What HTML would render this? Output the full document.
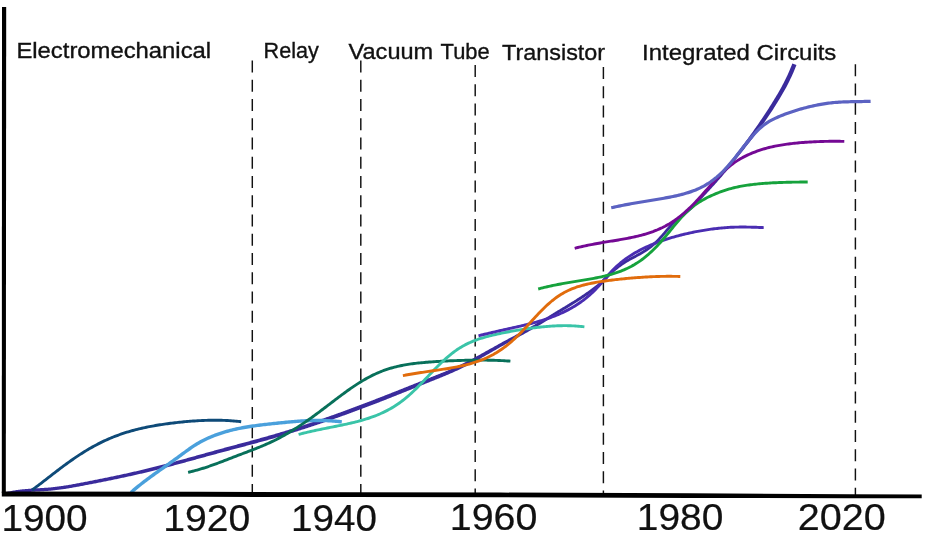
<!DOCTYPE html><html><head><meta charset="utf-8"><title>chart</title><style>html,body{margin:0;padding:0;background:#fff}svg{display:block}text{font-family:"Liberation Sans",sans-serif;fill:#111;stroke:#111;stroke-width:0.35px}</style></head><body>
<svg width="925" height="535" viewBox="0 0 925 535">
<rect width="925" height="535" fill="#fff"/>
<g style="filter:blur(0.4px)">
<line x1="252.3" y1="60.6" x2="252.3" y2="495" stroke="#111" stroke-width="1.45" stroke-dasharray="12 7.25"/>
<line x1="360.8" y1="60.6" x2="360.8" y2="495" stroke="#111" stroke-width="1.45" stroke-dasharray="12 7.25"/>
<line x1="475.2" y1="65.0" x2="475.2" y2="495" stroke="#111" stroke-width="1.45" stroke-dasharray="12 7.25"/>
<line x1="603.4" y1="67.0" x2="603.4" y2="495" stroke="#111" stroke-width="1.45" stroke-dasharray="12 7.25"/>
<line x1="855.4" y1="64.3" x2="855.4" y2="495" stroke="#111" stroke-width="1.45" stroke-dasharray="12 7.25"/>
<path d="M7.05,494.91 L8.03,494.68 L9.02,494.46 L10.01,494.25 L10.99,494.06 L11.98,493.87 L12.97,493.70 L13.95,493.53 L14.94,493.38 L15.93,493.23 L16.92,493.10 L17.91,492.97 L18.90,492.85 L19.89,492.73 L20.88,492.63 L21.87,492.53 L22.86,492.44 L23.86,492.35 L24.85,492.27 L25.84,492.20 L26.84,492.12 L27.83,492.06 L28.83,491.99 L29.82,491.94 L30.82,491.88 L31.82,491.82 L32.82,491.76 L33.81,491.71 L34.81,491.65 L35.81,491.60 L36.81,491.55 L37.81,491.50 L38.82,491.44 L39.82,491.39 L40.82,491.34 L41.82,491.28 L42.83,491.23 L43.83,491.17 L44.84,491.10 L45.85,491.04 L46.85,490.97 L47.86,490.89 L48.87,490.82 L49.88,490.73 L50.89,490.64 L51.90,490.55 L52.91,490.45 L53.92,490.34 L54.93,490.23 L55.94,490.12 L56.95,490.00 L57.95,489.87 L58.96,489.74 L59.97,489.61 L60.98,489.47 L61.99,489.33 L62.99,489.18 L64.00,489.03 L65.01,488.88 L66.01,488.72 L67.02,488.56 L68.03,488.40 L69.03,488.23 L70.04,488.07 L71.04,487.89 L72.05,487.72 L73.05,487.54 L74.06,487.37 L75.06,487.19 L76.06,487.01 L77.07,486.82 L78.07,486.64 L79.07,486.45 L80.08,486.26 L81.08,486.07 L82.08,485.89 L83.08,485.70 L84.09,485.51 L85.09,485.31 L86.09,485.12 L87.09,484.93 L88.09,484.74 L89.10,484.55 L90.10,484.35 L91.10,484.16 L92.10,483.97 L93.10,483.77 L94.11,483.58 L95.11,483.38 L96.11,483.19 L97.11,482.99 L98.11,482.79 L99.12,482.60 L100.12,482.40 L101.12,482.20 L102.12,482.00 L103.12,481.80 L104.13,481.60 L105.13,481.40 L106.13,481.20 L107.13,481.00 L108.13,480.79 L109.14,480.59 L110.14,480.38 L111.14,480.18 L112.14,479.97 L113.15,479.77 L114.15,479.56 L115.15,479.35 L116.15,479.14 L117.15,478.93 L118.16,478.72 L119.16,478.51 L120.16,478.30 L121.16,478.09 L122.17,477.87 L123.17,477.66 L124.17,477.44 L125.17,477.23 L126.18,477.01 L127.18,476.79 L128.18,476.57 L129.19,476.35 L130.19,476.13 L131.19,475.91 L132.19,475.69 L133.20,475.47 L134.20,475.24 L135.20,475.02 L136.20,474.79 L137.21,474.56 L138.21,474.33 L139.21,474.10 L140.22,473.87 L141.22,473.64 L142.22,473.41 L143.22,473.17 L144.23,472.94 L145.23,472.70 L146.23,472.47 L147.24,472.23 L148.24,471.99 L149.24,471.75 L150.25,471.50 L151.25,471.26 L152.25,471.02 L153.26,470.77 L154.26,470.52 L155.26,470.28 L156.26,470.03 L157.27,469.78 L158.27,469.52 L159.27,469.27 L160.28,469.02 L161.28,468.76 L162.28,468.51 L163.29,468.25 L164.29,467.99 L165.29,467.73 L166.29,467.47 L167.30,467.21 L168.30,466.95 L169.30,466.69 L170.30,466.42 L171.31,466.16 L172.31,465.89 L173.31,465.63 L174.31,465.36 L175.32,465.09 L176.32,464.83 L177.32,464.56 L178.32,464.29 L179.32,464.02 L180.33,463.75 L181.33,463.48 L182.33,463.21 L183.33,462.93 L184.33,462.66 L185.34,462.39 L186.34,462.12 L187.34,461.84 L188.34,461.57 L189.34,461.29 L190.35,461.02 L191.35,460.74 L192.35,460.47 L193.35,460.20 L194.35,459.92 L195.35,459.65 L196.36,459.37 L197.36,459.09 L198.36,458.82 L199.36,458.54 L200.36,458.27 L201.36,457.99 L202.36,457.72 L203.36,457.44 L204.37,457.17 L205.37,456.89 L206.37,456.62 L207.37,456.34 L208.37,456.07 L209.37,455.79 L210.37,455.52 L211.37,455.24 L212.37,454.97 L213.37,454.70 L214.38,454.42 L215.38,454.15 L216.38,453.88 L217.38,453.60 L218.38,453.33 L219.38,453.06 L220.38,452.79 L221.38,452.52 L222.38,452.25 L223.38,451.98 L224.38,451.72 L225.38,451.45 L226.38,451.18 L227.38,450.91 L228.38,450.65 L229.38,450.38 L230.39,450.11 L231.39,449.85 L232.39,449.58 L233.39,449.31 L234.39,449.05 L235.39,448.78 L236.39,448.52 L237.39,448.25 L238.39,447.99 L239.40,447.72 L240.40,447.46 L241.40,447.19 L242.40,446.92 L243.40,446.66 L244.40,446.39 L245.41,446.13 L246.41,445.86 L247.41,445.59 L248.41,445.32 L249.41,445.06 L250.41,444.79 L251.42,444.52 L252.42,444.25 L253.42,443.98 L254.42,443.71 L255.43,443.44 L256.43,443.17 L257.43,442.89 L258.43,442.62 L259.44,442.35 L260.44,442.07 L261.44,441.80 L262.44,441.52 L263.45,441.25 L264.45,440.97 L265.45,440.69 L266.46,440.41 L267.46,440.13 L268.46,439.85 L269.46,439.56 L270.47,439.28 L271.47,438.99 L272.47,438.71 L273.48,438.42 L274.48,438.13 L275.49,437.84 L276.49,437.55 L277.49,437.26 L278.50,436.96 L279.50,436.67 L280.50,436.37 L281.51,436.07 L282.51,435.77 L283.51,435.47 L284.52,435.17 L285.52,434.87 L286.52,434.57 L287.53,434.26 L288.53,433.96 L289.53,433.65 L290.54,433.34 L291.54,433.03 L292.54,432.72 L293.55,432.41 L294.55,432.10 L295.55,431.78 L296.56,431.47 L297.56,431.15 L298.56,430.83 L299.57,430.51 L300.57,430.19 L301.57,429.87 L302.58,429.55 L303.58,429.23 L304.58,428.91 L305.59,428.58 L306.59,428.25 L307.59,427.93 L308.60,427.60 L309.60,427.27 L310.60,426.94 L311.61,426.61 L312.61,426.28 L313.61,425.94 L314.61,425.61 L315.62,425.27 L316.62,424.94 L317.62,424.60 L318.63,424.26 L319.63,423.92 L320.63,423.58 L321.64,423.24 L322.64,422.90 L323.64,422.55 L324.65,422.21 L325.65,421.86 L326.65,421.52 L327.66,421.17 L328.66,420.82 L329.66,420.47 L330.66,420.12 L331.67,419.77 L332.67,419.42 L333.67,419.07 L334.68,418.72 L335.68,418.36 L336.68,418.01 L337.69,417.65 L338.69,417.29 L339.69,416.94 L340.69,416.58 L341.70,416.22 L342.70,415.86 L343.70,415.50 L344.71,415.13 L345.71,414.77 L346.71,414.41 L347.71,414.04 L348.72,413.68 L349.72,413.31 L350.72,412.94 L351.73,412.58 L352.73,412.21 L353.73,411.84 L354.73,411.47 L355.74,411.10 L356.74,410.73 L357.74,410.35 L358.74,409.98 L359.75,409.61 L360.75,409.23 L361.75,408.86 L362.76,408.48 L363.76,408.11 L364.76,407.73 L365.76,407.35 L366.77,406.97 L367.77,406.59 L368.77,406.21 L369.77,405.83 L370.78,405.45 L371.78,405.07 L372.78,404.69 L373.79,404.30 L374.79,403.92 L375.79,403.53 L376.79,403.15 L377.80,402.76 L378.80,402.38 L379.80,401.99 L380.80,401.60 L381.80,401.21 L382.81,400.82 L383.81,400.42 L384.81,400.03 L385.81,399.64 L386.81,399.24 L387.81,398.85 L388.81,398.45 L389.81,398.05 L390.81,397.66 L391.81,397.26 L392.82,396.86 L393.82,396.46 L394.82,396.06 L395.82,395.66 L396.82,395.26 L397.82,394.86 L398.82,394.46 L399.82,394.06 L400.82,393.66 L401.82,393.26 L402.82,392.85 L403.82,392.45 L404.82,392.05 L405.82,391.65 L406.83,391.24 L407.83,390.84 L408.83,390.44 L409.83,390.03 L410.83,389.63 L411.83,389.23 L412.83,388.82 L413.83,388.42 L414.83,388.02 L415.83,387.61 L416.83,387.21 L417.83,386.81 L418.83,386.41 L419.83,386.00 L420.83,385.60 L421.83,385.20 L422.82,384.80 L423.82,384.40 L424.82,383.99 L425.82,383.59 L426.82,383.19 L427.82,382.79 L428.82,382.39 L429.82,381.99 L430.82,381.60 L431.82,381.20 L432.82,380.80 L433.82,380.40 L434.82,380.00 L435.83,379.59 L436.83,379.19 L437.83,378.79 L438.83,378.38 L439.83,377.97 L440.84,377.57 L441.84,377.16 L442.84,376.74 L443.85,376.33 L444.85,375.91 L445.85,375.49 L446.86,375.07 L447.86,374.64 L448.87,374.21 L449.87,373.78 L450.88,373.34 L451.88,372.90 L452.89,372.46 L453.90,372.01 L454.90,371.56 L455.91,371.10 L456.92,370.64 L457.92,370.18 L458.93,369.71 L459.94,369.23 L460.94,368.75 L461.95,368.26 L462.96,367.77 L463.97,367.27 L464.97,366.77 L465.98,366.26 L466.99,365.75 L467.99,365.24 L469.00,364.71 L470.00,364.19 L471.01,363.66 L472.01,363.13 L473.01,362.59 L474.02,362.04 L475.02,361.50 L476.02,360.95 L477.02,360.40 L478.03,359.85 L479.03,359.29 L480.03,358.73 L481.03,358.17 L482.03,357.61 L483.03,357.05 L484.03,356.48 L485.03,355.91 L486.03,355.35 L487.03,354.78 L488.03,354.21 L489.03,353.64 L490.03,353.07 L491.03,352.49 L492.02,351.92 L493.02,351.35 L494.02,350.78 L495.02,350.21 L496.02,349.64 L497.01,349.07 L498.01,348.51 L499.01,347.94 L500.00,347.37 L501.00,346.81 L502.00,346.25 L502.99,345.69 L503.99,345.13 L504.98,344.58 L505.98,344.02 L506.98,343.47 L507.97,342.92 L508.97,342.37 L509.97,341.82 L510.96,341.28 L511.96,340.73 L512.96,340.19 L513.96,339.64 L514.96,339.10 L515.95,338.55 L516.95,338.01 L517.95,337.46 L518.95,336.92 L519.95,336.37 L520.95,335.82 L521.95,335.27 L522.95,334.72 L523.95,334.17 L524.95,333.61 L525.95,333.05 L526.95,332.49 L527.95,331.93 L528.95,331.37 L529.96,330.80 L530.96,330.22 L531.96,329.65 L532.96,329.07 L533.96,328.49 L534.97,327.90 L535.97,327.31 L536.97,326.71 L537.98,326.11 L538.98,325.50 L539.98,324.89 L540.98,324.28 L541.98,323.66 L542.98,323.04 L543.98,322.42 L544.98,321.79 L545.98,321.17 L546.99,320.54 L547.99,319.92 L548.99,319.29 L549.99,318.67 L550.99,318.05 L551.98,317.42 L552.98,316.80 L553.98,316.18 L554.98,315.57 L555.98,314.95 L556.97,314.34 L557.97,313.73 L558.97,313.12 L559.97,312.52 L560.97,311.91 L561.97,311.31 L562.97,310.70 L563.97,310.10 L564.97,309.49 L565.97,308.88 L566.97,308.28 L567.97,307.67 L568.97,307.06 L569.97,306.44 L570.98,305.83 L571.98,305.21 L572.98,304.59 L573.98,303.97 L574.99,303.34 L575.99,302.71 L576.99,302.07 L578.00,301.43 L579.00,300.79 L580.01,300.14 L581.01,299.48 L582.02,298.82 L583.02,298.15 L584.03,297.47 L585.03,296.79 L586.04,296.10 L587.04,295.41 L588.05,294.70 L589.06,293.99 L590.06,293.27 L591.07,292.54 L592.07,291.80 L593.08,291.06 L594.09,290.30 L595.10,289.53 L596.10,288.75 L597.11,287.96 L598.12,287.17 L599.12,286.35 L600.13,285.53 L601.14,284.70 L602.15,283.85 L603.17,282.98 L604.20,282.06 L605.23,281.06 L606.26,280.01 L607.28,278.93 L608.27,277.86 L609.26,276.81 L610.25,275.79 L611.24,274.80 L612.22,273.84 L613.21,272.91 L614.20,272.00 L615.18,271.12 L616.17,270.27 L617.15,269.44 L618.13,268.64 L619.12,267.87 L620.10,267.13 L621.08,266.41 L622.06,265.71 L623.04,265.04 L624.03,264.40 L625.01,263.77 L625.99,263.16 L626.98,262.57 L627.97,261.99 L628.96,261.43 L629.95,260.87 L630.94,260.33 L631.94,259.79 L632.93,259.25 L633.93,258.72 L634.93,258.19 L635.93,257.65 L636.94,257.12 L637.94,256.57 L638.95,256.02 L639.96,255.47 L640.97,254.90 L641.99,254.31 L643.00,253.72 L644.01,253.10 L645.03,252.47 L646.05,251.82 L647.07,251.15 L648.08,250.46 L649.10,249.74 L650.12,249.00 L651.14,248.22 L652.17,247.42 L653.19,246.59 L654.21,245.72 L655.23,244.82 L656.25,243.88 L657.27,242.91 L658.29,241.91 L659.30,240.88 L660.31,239.82 L661.33,238.74 L662.34,237.64 L663.35,236.51 L664.36,235.37 L665.37,234.21 L666.37,233.04 L667.38,231.86 L668.38,230.68 L669.38,229.51 L670.38,228.35 L671.37,227.21 L672.36,226.10 L673.34,225.03 L674.33,224.01 L675.30,223.03 L676.28,222.10 L677.26,221.21 L678.24,220.35 L679.23,219.52 L680.21,218.71 L681.20,217.92 L682.20,217.14 L683.19,216.36 L684.19,215.59 L685.20,214.81 L686.21,214.02 L687.22,213.22 L688.24,212.39 L689.26,211.54 L690.28,210.65 L691.30,209.73 L692.33,208.77 L693.35,207.77 L694.36,206.74 L695.38,205.69 L696.39,204.62 L697.40,203.53 L698.40,202.43 L699.41,201.32 L700.41,200.22 L701.41,199.12 L702.41,198.02 L703.41,196.93 L704.42,195.83 L705.42,194.75 L706.42,193.66 L707.43,192.57 L708.43,191.48 L709.44,190.39 L710.44,189.30 L711.45,188.20 L712.45,187.10 L713.46,185.99 L714.46,184.88 L715.47,183.77 L716.48,182.64 L717.48,181.51 L718.49,180.37 L719.50,179.23 L720.51,178.07 L721.51,176.91 L722.52,175.73 L723.53,174.55 L724.53,173.37 L725.54,172.17 L726.55,170.97 L727.55,169.76 L728.56,168.55 L729.57,167.33 L730.57,166.10 L731.58,164.87 L732.58,163.63 L733.59,162.38 L734.60,161.13 L735.60,159.87 L736.61,158.61 L737.61,157.35 L738.62,156.08 L739.63,154.80 L740.63,153.52 L741.64,152.24 L742.66,150.96 L743.68,149.68 L744.70,148.39 L745.71,147.10 L746.73,145.80 L747.75,144.50 L748.77,143.20 L749.79,141.88 L750.81,140.57 L751.83,139.24 L752.85,137.91 L753.87,136.57 L754.89,135.22 L755.91,133.86 L756.93,132.50 L757.95,131.12 L758.97,129.74 L759.99,128.35 L761.01,126.95 L762.03,125.53 L763.05,124.11 L764.08,122.67 L765.10,121.23 L766.12,119.77 L767.14,118.29 L768.14,116.80 L769.15,115.29 L770.16,113.77 L771.17,112.24 L772.18,110.70 L773.19,109.13 L774.19,107.56 L775.20,105.97 L776.21,104.36 L777.22,102.74 L778.23,101.10 L779.24,99.45 L780.25,97.77 L781.26,96.08 L782.27,94.36 L783.28,92.61 L784.29,90.82 L785.31,89.00 L786.32,87.13 L787.34,85.21 L788.35,83.24 L789.37,81.21 L790.38,79.12 L791.40,76.96 L792.41,74.73 L793.43,72.42 L794.44,70.04 L795.45,67.57 L796.47,65.00 L792.38,63.42 L791.39,65.93 L790.40,68.35 L789.41,70.69 L788.43,72.95 L787.44,75.14 L786.45,77.25 L785.47,79.30 L784.48,81.28 L783.49,83.21 L782.50,85.09 L781.52,86.93 L780.53,88.72 L779.54,90.48 L778.55,92.20 L777.56,93.90 L776.57,95.57 L775.57,97.23 L774.58,98.87 L773.59,100.50 L772.59,102.11 L771.60,103.70 L770.61,105.28 L769.62,106.85 L768.62,108.40 L767.63,109.93 L766.63,111.45 L765.64,112.96 L764.65,114.46 L763.65,115.94 L762.67,117.42 L761.69,118.88 L760.71,120.34 L759.73,121.79 L758.75,123.22 L757.77,124.65 L756.79,126.06 L755.81,127.47 L754.82,128.87 L753.84,130.25 L752.86,131.63 L751.88,133.00 L750.90,134.37 L749.92,135.72 L748.93,137.07 L747.95,138.42 L746.97,139.75 L745.99,141.08 L745.00,142.41 L744.02,143.73 L743.04,145.04 L742.05,146.36 L741.07,147.66 L740.09,148.97 L739.10,150.26 L738.11,151.55 L737.12,152.83 L736.12,154.11 L735.12,155.38 L734.13,156.65 L733.13,157.91 L732.14,159.16 L731.14,160.41 L730.14,161.66 L729.15,162.90 L728.15,164.13 L727.16,165.36 L726.16,166.58 L725.17,167.79 L724.17,169.00 L723.18,170.19 L722.18,171.39 L721.19,172.57 L720.19,173.75 L719.20,174.92 L718.20,176.08 L717.21,177.23 L716.21,178.38 L715.22,179.51 L714.22,180.64 L713.23,181.76 L712.23,182.88 L711.24,183.99 L710.24,185.09 L709.24,186.19 L708.25,187.29 L707.25,188.39 L706.25,189.48 L705.26,190.58 L704.26,191.67 L703.26,192.76 L702.26,193.86 L701.26,194.96 L700.26,196.06 L699.26,197.16 L698.26,198.27 L697.26,199.38 L696.26,200.48 L695.27,201.57 L694.27,202.65 L693.28,203.70 L692.30,204.73 L691.31,205.73 L690.33,206.69 L689.35,207.62 L688.37,208.50 L687.39,209.35 L686.41,210.18 L685.42,210.99 L684.43,211.77 L683.44,212.55 L682.45,213.33 L681.44,214.11 L680.44,214.89 L679.43,215.68 L678.42,216.49 L677.41,217.33 L676.39,218.19 L675.37,219.09 L674.34,220.02 L673.32,221.00 L672.30,222.03 L671.28,223.10 L670.26,224.21 L669.25,225.34 L668.24,226.50 L667.23,227.68 L666.23,228.86 L665.23,230.04 L664.23,231.21 L663.24,232.38 L662.25,233.52 L661.25,234.65 L660.26,235.75 L659.27,236.84 L658.28,237.90 L657.29,238.93 L656.31,239.93 L655.32,240.90 L654.34,241.84 L653.36,242.74 L652.38,243.60 L651.40,244.44 L650.42,245.24 L649.43,246.01 L648.45,246.75 L647.47,247.47 L646.49,248.16 L645.51,248.83 L644.52,249.48 L643.54,250.10 L642.55,250.72 L641.57,251.31 L640.58,251.89 L639.59,252.46 L638.60,253.02 L637.60,253.57 L636.61,254.11 L635.62,254.65 L634.62,255.18 L633.62,255.71 L632.62,256.25 L631.61,256.78 L630.61,257.32 L629.60,257.87 L628.59,258.42 L627.58,258.99 L626.57,259.57 L625.55,260.16 L624.54,260.77 L623.52,261.40 L622.50,262.05 L621.49,262.72 L620.46,263.41 L619.44,264.13 L618.42,264.88 L617.40,265.66 L616.39,266.46 L615.37,267.28 L614.35,268.14 L613.33,269.02 L612.32,269.92 L611.30,270.86 L610.28,271.82 L609.27,272.81 L608.25,273.83 L607.24,274.87 L606.23,275.95 L605.22,277.03 L604.23,278.08 L603.26,279.08 L602.30,280.00 L601.32,280.87 L600.34,281.71 L599.35,282.55 L598.35,283.36 L597.36,284.17 L596.37,284.97 L595.37,285.75 L594.38,286.53 L593.38,287.29 L592.39,288.04 L591.39,288.79 L590.40,289.52 L589.40,290.25 L588.41,290.97 L587.41,291.67 L586.41,292.37 L585.42,293.07 L584.42,293.75 L583.43,294.43 L582.43,295.10 L581.43,295.76 L580.44,296.42 L579.44,297.08 L578.44,297.72 L577.45,298.36 L576.45,299.00 L575.45,299.63 L574.45,300.26 L573.45,300.89 L572.45,301.51 L571.46,302.12 L570.46,302.74 L569.46,303.35 L568.46,303.96 L567.46,304.57 L566.46,305.17 L565.46,305.78 L564.45,306.38 L563.45,306.98 L562.45,307.58 L561.45,308.19 L560.45,308.79 L559.45,309.39 L558.44,309.99 L557.44,310.60 L556.44,311.21 L555.43,311.82 L554.43,312.43 L553.43,313.04 L552.42,313.66 L551.42,314.27 L550.41,314.89 L549.41,315.51 L548.41,316.14 L547.41,316.76 L546.40,317.38 L545.40,318.00 L544.40,318.62 L543.40,319.24 L542.40,319.85 L541.40,320.46 L540.40,321.07 L539.40,321.67 L538.40,322.27 L537.40,322.87 L536.40,323.46 L535.40,324.05 L534.40,324.63 L533.40,325.21 L532.40,325.78 L531.40,326.35 L530.40,326.91 L529.40,327.48 L528.40,328.04 L527.40,328.59 L526.40,329.14 L525.40,329.69 L524.40,330.24 L523.40,330.79 L522.40,331.33 L521.40,331.87 L520.39,332.41 L519.39,332.95 L518.39,333.49 L517.39,334.03 L516.38,334.56 L515.38,335.10 L514.38,335.63 L513.37,336.17 L512.37,336.70 L511.37,337.24 L510.36,337.78 L509.36,338.31 L508.35,338.85 L507.35,339.39 L506.34,339.93 L505.34,340.47 L504.33,341.02 L503.33,341.57 L502.32,342.11 L501.32,342.67 L500.31,343.22 L499.30,343.77 L498.30,344.33 L497.29,344.89 L496.29,345.45 L495.28,346.01 L494.28,346.57 L493.28,347.13 L492.27,347.69 L491.27,348.25 L490.26,348.81 L489.26,349.37 L488.26,349.94 L487.25,350.50 L486.25,351.06 L485.25,351.62 L484.25,352.17 L483.24,352.73 L482.24,353.29 L481.24,353.84 L480.24,354.39 L479.24,354.94 L478.24,355.49 L477.24,356.04 L476.24,356.58 L475.24,357.12 L474.24,357.66 L473.24,358.19 L472.24,358.73 L471.24,359.25 L470.24,359.78 L469.24,360.30 L468.24,360.82 L467.25,361.33 L466.25,361.84 L465.26,362.35 L464.26,362.85 L463.26,363.35 L462.27,363.84 L461.28,364.32 L460.28,364.81 L459.29,365.28 L458.29,365.75 L457.30,366.22 L456.30,366.68 L455.31,367.13 L454.31,367.58 L453.32,368.03 L452.32,368.47 L451.33,368.91 L450.33,369.34 L449.33,369.77 L448.34,370.20 L447.34,370.63 L446.34,371.05 L445.35,371.47 L444.35,371.88 L443.35,372.29 L442.35,372.70 L441.35,373.11 L440.36,373.52 L439.36,373.92 L438.36,374.32 L437.36,374.72 L436.36,375.12 L435.36,375.52 L434.36,375.92 L433.36,376.32 L432.36,376.71 L431.36,377.11 L430.36,377.50 L429.35,377.90 L428.35,378.29 L427.35,378.69 L426.35,379.08 L425.35,379.48 L424.34,379.88 L423.34,380.27 L422.34,380.67 L421.34,381.07 L420.33,381.47 L419.33,381.87 L418.33,382.26 L417.33,382.66 L416.33,383.06 L415.32,383.46 L414.32,383.86 L413.32,384.26 L412.32,384.66 L411.32,385.06 L410.31,385.46 L409.31,385.86 L408.31,386.26 L407.31,386.65 L406.31,387.05 L405.31,387.45 L404.31,387.85 L403.30,388.25 L402.30,388.65 L401.30,389.05 L400.30,389.44 L399.30,389.84 L398.30,390.24 L397.30,390.63 L396.30,391.03 L395.29,391.43 L394.29,391.82 L393.29,392.22 L392.29,392.61 L391.29,393.00 L390.29,393.40 L389.29,393.79 L388.29,394.18 L387.29,394.57 L386.29,394.97 L385.29,395.36 L384.28,395.75 L383.28,396.14 L382.28,396.52 L381.28,396.91 L380.28,397.30 L379.28,397.69 L378.28,398.08 L377.28,398.47 L376.28,398.86 L375.28,399.24 L374.28,399.63 L373.29,400.02 L372.29,400.40 L371.29,400.79 L370.29,401.17 L369.29,401.56 L368.29,401.94 L367.29,402.33 L366.29,402.71 L365.29,403.09 L364.29,403.47 L363.29,403.85 L362.29,404.23 L361.30,404.61 L360.30,404.99 L359.30,405.36 L358.30,405.74 L357.30,406.12 L356.30,406.49 L355.30,406.87 L354.30,407.24 L353.30,407.61 L352.30,407.98 L351.30,408.36 L350.31,408.73 L349.31,409.10 L348.31,409.47 L347.31,409.83 L346.31,410.20 L345.31,410.57 L344.31,410.93 L343.31,411.30 L342.31,411.66 L341.31,412.03 L340.32,412.39 L339.32,412.75 L338.32,413.11 L337.32,413.47 L336.32,413.83 L335.32,414.19 L334.32,414.55 L333.32,414.90 L332.32,415.26 L331.33,415.61 L330.33,415.97 L329.33,416.32 L328.33,416.67 L327.33,417.02 L326.33,417.37 L325.33,417.72 L324.33,418.07 L323.34,418.42 L322.34,418.76 L321.34,419.11 L320.34,419.45 L319.34,419.80 L318.34,420.14 L317.34,420.48 L316.34,420.82 L315.35,421.16 L314.35,421.50 L313.35,421.83 L312.35,422.17 L311.35,422.51 L310.35,422.84 L309.35,423.17 L308.36,423.51 L307.36,423.84 L306.36,424.17 L305.36,424.50 L304.36,424.83 L303.36,425.15 L302.36,425.48 L301.37,425.80 L300.37,426.13 L299.37,426.45 L298.37,426.77 L297.37,427.09 L296.37,427.41 L295.37,427.73 L294.38,428.05 L293.38,428.36 L292.38,428.68 L291.38,428.99 L290.38,429.30 L289.38,429.61 L288.38,429.92 L287.39,430.23 L286.39,430.54 L285.39,430.85 L284.39,431.15 L283.39,431.46 L282.39,431.76 L281.40,432.06 L280.40,432.36 L279.40,432.66 L278.40,432.96 L277.40,433.26 L276.40,433.55 L275.40,433.85 L274.41,434.14 L273.41,434.43 L272.41,434.72 L271.41,435.01 L270.41,435.30 L269.41,435.59 L268.42,435.87 L267.42,436.16 L266.42,436.44 L265.42,436.72 L264.42,437.01 L263.42,437.29 L262.42,437.57 L261.42,437.85 L260.42,438.12 L259.43,438.40 L258.43,438.68 L257.43,438.95 L256.43,439.23 L255.43,439.50 L254.43,439.78 L253.43,440.05 L252.43,440.32 L251.43,440.60 L250.43,440.87 L249.43,441.14 L248.43,441.41 L247.43,441.68 L246.43,441.95 L245.43,442.22 L244.43,442.49 L243.43,442.76 L242.43,443.03 L241.43,443.30 L240.43,443.56 L239.43,443.83 L238.43,444.10 L237.43,444.37 L236.43,444.64 L235.43,444.91 L234.43,445.17 L233.43,445.44 L232.43,445.71 L231.43,445.98 L230.42,446.25 L229.42,446.52 L228.42,446.79 L227.42,447.06 L226.42,447.33 L225.42,447.60 L224.42,447.87 L223.42,448.14 L222.42,448.41 L221.41,448.69 L220.41,448.96 L219.41,449.23 L218.41,449.51 L217.41,449.78 L216.41,450.05 L215.41,450.33 L214.41,450.61 L213.40,450.88 L212.40,451.16 L211.40,451.43 L210.40,451.71 L209.40,451.99 L208.40,452.27 L207.40,452.54 L206.40,452.82 L205.40,453.10 L204.40,453.38 L203.40,453.66 L202.39,453.93 L201.39,454.21 L200.39,454.49 L199.39,454.77 L198.39,455.05 L197.39,455.33 L196.39,455.60 L195.39,455.88 L194.39,456.16 L193.39,456.44 L192.39,456.72 L191.39,456.99 L190.39,457.27 L189.39,457.55 L188.39,457.82 L187.39,458.10 L186.39,458.38 L185.39,458.65 L184.39,458.93 L183.39,459.20 L182.39,459.48 L181.39,459.75 L180.39,460.02 L179.39,460.29 L178.39,460.57 L177.39,460.84 L176.39,461.11 L175.39,461.38 L174.39,461.65 L173.39,461.92 L172.39,462.19 L171.39,462.45 L170.39,462.72 L169.40,462.99 L168.40,463.25 L167.40,463.51 L166.40,463.78 L165.40,464.04 L164.40,464.30 L163.40,464.56 L162.40,464.82 L161.40,465.08 L160.40,465.34 L159.40,465.59 L158.41,465.85 L157.41,466.10 L156.41,466.36 L155.41,466.61 L154.41,466.86 L153.41,467.11 L152.41,467.36 L151.41,467.60 L150.42,467.85 L149.42,468.09 L148.42,468.34 L147.42,468.58 L146.42,468.82 L145.42,469.06 L144.42,469.30 L143.42,469.54 L142.42,469.77 L141.43,470.01 L140.43,470.24 L139.43,470.47 L138.43,470.71 L137.43,470.94 L136.43,471.17 L135.43,471.40 L134.43,471.62 L133.43,471.85 L132.44,472.08 L131.44,472.30 L130.44,472.53 L129.44,472.75 L128.44,472.97 L127.44,473.19 L126.44,473.41 L125.44,473.63 L124.44,473.85 L123.44,474.07 L122.44,474.29 L121.44,474.50 L120.44,474.72 L119.45,474.93 L118.45,475.15 L117.45,475.36 L116.45,475.57 L115.45,475.78 L114.45,475.99 L113.45,476.20 L112.45,476.41 L111.45,476.62 L110.45,476.83 L109.45,477.03 L108.45,477.24 L107.45,477.44 L106.45,477.65 L105.45,477.85 L104.45,478.06 L103.45,478.26 L102.45,478.46 L101.45,478.66 L100.45,478.87 L99.45,479.07 L98.45,479.27 L97.45,479.47 L96.45,479.66 L95.45,479.86 L94.45,480.06 L93.45,480.26 L92.45,480.46 L91.45,480.65 L90.45,480.85 L89.45,481.05 L88.45,481.24 L87.45,481.44 L86.45,481.63 L85.45,481.82 L84.45,482.02 L83.45,482.21 L82.45,482.40 L81.46,482.60 L80.46,482.79 L79.46,482.98 L78.46,483.17 L77.46,483.36 L76.46,483.54 L75.46,483.73 L74.47,483.91 L73.47,484.09 L72.47,484.27 L71.47,484.45 L70.48,484.63 L69.48,484.80 L68.48,484.97 L67.49,485.14 L66.49,485.30 L65.50,485.46 L64.50,485.62 L63.50,485.77 L62.51,485.92 L61.52,486.07 L60.52,486.21 L59.53,486.35 L58.53,486.49 L57.54,486.62 L56.55,486.74 L55.55,486.87 L54.56,486.98 L53.57,487.09 L52.57,487.20 L51.58,487.30 L50.59,487.40 L49.60,487.49 L48.61,487.57 L47.61,487.65 L46.62,487.73 L45.62,487.80 L44.63,487.87 L43.63,487.93 L42.64,487.99 L41.64,488.05 L40.64,488.11 L39.64,488.17 L38.64,488.22 L37.64,488.28 L36.64,488.33 L35.64,488.39 L34.64,488.44 L33.64,488.50 L32.63,488.56 L31.63,488.62 L30.62,488.68 L29.62,488.75 L28.61,488.82 L27.61,488.90 L26.60,488.98 L25.59,489.06 L24.58,489.15 L23.57,489.25 L22.57,489.35 L21.56,489.46 L20.55,489.57 L19.53,489.69 L18.52,489.82 L17.51,489.96 L16.50,490.10 L15.49,490.26 L14.47,490.42 L13.46,490.59 L12.44,490.77 L11.43,490.97 L10.42,491.17 L9.40,491.39 L8.38,491.62 L7.37,491.86 L6.35,492.11Z" fill="#3a2b9c" stroke="none"/>
<path d="M32.00,490.04 L33.51,488.94 L35.01,487.83 L36.52,486.70 L38.02,485.57 L39.53,484.43 L41.03,483.28 L42.54,482.12 L44.04,480.96 L45.55,479.79 L47.05,478.63 L48.56,477.46 L50.06,476.29 L51.57,475.12 L53.07,473.96 L54.58,472.79 L56.08,471.64 L57.59,470.48 L59.09,469.34 L60.60,468.20 L62.10,467.07 L63.61,465.95 L65.11,464.84 L66.62,463.73 L68.12,462.64 L69.63,461.56 L71.13,460.50 L72.64,459.44 L74.14,458.40 L75.65,457.38 L77.15,456.37 L78.66,455.37 L80.16,454.39 L81.67,453.42 L83.17,452.47 L84.68,451.54 L86.18,450.62 L87.69,449.72 L89.19,448.83 L90.70,447.97 L92.20,447.12 L93.71,446.28 L95.21,445.47 L96.72,444.67 L98.22,443.89 L99.73,443.12 L101.23,442.38 L102.74,441.65 L104.24,440.93 L105.75,440.24 L107.25,439.56 L108.76,438.90 L110.26,438.26 L111.77,437.63 L113.27,437.02 L114.78,436.43 L116.28,435.85 L117.79,435.29 L119.29,434.74 L120.80,434.21 L122.30,433.70 L123.81,433.20 L125.31,432.71 L126.82,432.24 L128.32,431.78 L129.83,431.34 L131.33,430.90 L132.84,430.49 L134.34,430.08 L135.85,429.69 L137.35,429.30 L138.86,428.93 L140.36,428.58 L141.87,428.23 L143.37,427.89 L144.88,427.56 L146.38,427.25 L147.89,426.94 L149.39,426.64 L150.90,426.36 L152.40,426.08 L153.91,425.81 L155.41,425.54 L156.92,425.29 L158.42,425.04 L159.93,424.80 L161.43,424.57 L162.94,424.35 L164.44,424.13 L165.95,423.91 L167.45,423.71 L168.96,423.51 L170.46,423.31 L171.97,423.12 L173.47,422.94 L174.98,422.75 L176.48,422.58 L177.99,422.41 L179.49,422.25 L181.00,422.09 L182.50,421.94 L184.01,421.79 L185.51,421.65 L187.02,421.51 L188.52,421.38 L190.03,421.26 L191.53,421.14 L193.04,421.03 L194.54,420.93 L196.05,420.83 L197.55,420.74 L199.06,420.66 L200.56,420.58 L202.07,420.51 L203.57,420.45 L205.08,420.40 L206.58,420.35 L208.09,420.31 L209.59,420.28 L211.10,420.25 L212.60,420.24 L214.11,420.23 L215.61,420.23 L217.12,420.24 L218.62,420.26 L220.13,420.29 L221.63,420.32 L223.14,420.37 L224.64,420.42 L226.15,420.49 L227.65,420.56 L229.16,420.64 L230.66,420.74 L232.17,420.84 L233.67,420.96 L235.18,421.08 L236.68,421.22 L238.19,421.36 L239.69,421.52 L241.20,421.69" fill="none" stroke="#0e4a78" stroke-width="2.9" stroke-linecap="butt" stroke-linejoin="round"/>
<path d="M130.90,492.49 L132.41,491.18 L133.91,489.89 L135.42,488.63 L136.93,487.39 L138.43,486.17 L139.94,484.96 L141.44,483.78 L142.95,482.61 L144.46,481.45 L145.96,480.31 L147.47,479.17 L148.98,478.05 L150.48,476.94 L151.99,475.84 L153.50,474.75 L155.00,473.66 L156.51,472.58 L158.02,471.51 L159.52,470.44 L161.03,469.37 L162.53,468.30 L164.04,467.24 L165.55,466.17 L167.05,465.10 L168.56,464.04 L170.07,462.97 L171.57,461.89 L173.08,460.82 L174.59,459.74 L176.09,458.65 L177.60,457.55 L179.11,456.45 L180.61,455.34 L182.12,454.22 L183.62,453.11 L185.13,452.00 L186.64,450.90 L188.14,449.81 L189.65,448.74 L191.16,447.70 L192.66,446.67 L194.17,445.68 L195.68,444.72 L197.18,443.80 L198.69,442.92 L200.20,442.07 L201.70,441.25 L203.21,440.47 L204.72,439.72 L206.22,439.00 L207.73,438.30 L209.23,437.64 L210.74,436.99 L212.25,436.37 L213.75,435.77 L215.26,435.19 L216.77,434.63 L218.27,434.09 L219.78,433.57 L221.29,433.07 L222.79,432.59 L224.30,432.13 L225.81,431.68 L227.31,431.25 L228.82,430.84 L230.32,430.44 L231.83,430.06 L233.34,429.69 L234.84,429.34 L236.35,429.00 L237.86,428.68 L239.36,428.37 L240.87,428.07 L242.38,427.78 L243.88,427.50 L245.39,427.24 L246.90,426.98 L248.40,426.74 L249.91,426.50 L251.41,426.27 L252.92,426.05 L254.43,425.84 L255.93,425.63 L257.44,425.43 L258.95,425.24 L260.45,425.05 L261.96,424.86 L263.47,424.68 L264.97,424.51 L266.48,424.34 L267.99,424.17 L269.49,424.00 L271.00,423.84 L272.50,423.68 L274.01,423.51 L275.52,423.36 L277.02,423.20 L278.53,423.04 L280.04,422.89 L281.54,422.74 L283.05,422.59 L284.56,422.44 L286.06,422.30 L287.57,422.15 L289.08,422.02 L290.58,421.88 L292.09,421.75 L293.59,421.63 L295.10,421.51 L296.61,421.39 L298.11,421.28 L299.62,421.17 L301.13,421.07 L302.63,420.98 L304.14,420.89 L305.65,420.81 L307.15,420.74 L308.66,420.68 L310.17,420.62 L311.67,420.57 L313.18,420.53 L314.68,420.50 L316.19,420.48 L317.70,420.46 L319.20,420.46 L320.71,420.47 L322.22,420.49 L323.72,420.52 L325.23,420.56 L326.74,420.62 L328.24,420.68 L329.75,420.76 L331.25,420.86 L332.76,420.96 L334.27,421.09 L335.77,421.22 L337.28,421.37 L338.79,421.54 L340.29,421.72 L341.80,421.92" fill="none" stroke="#4aa0dc" stroke-width="3.4" stroke-linecap="butt" stroke-linejoin="round"/>
<path d="M188.10,472.30 L189.61,471.97 L191.11,471.62 L192.62,471.25 L194.12,470.87 L195.63,470.47 L197.14,470.05 L198.64,469.62 L200.15,469.18 L201.65,468.72 L203.16,468.25 L204.67,467.77 L206.17,467.27 L207.68,466.77 L209.19,466.25 L210.69,465.73 L212.20,465.20 L213.70,464.66 L215.21,464.11 L216.72,463.56 L218.22,463.00 L219.73,462.43 L221.23,461.86 L222.74,461.29 L224.25,460.71 L225.75,460.13 L227.26,459.55 L228.76,458.96 L230.27,458.38 L231.78,457.80 L233.28,457.21 L234.79,456.63 L236.29,456.05 L237.80,455.48 L239.31,454.90 L240.81,454.33 L242.32,453.76 L243.82,453.19 L245.33,452.62 L246.84,452.05 L248.34,451.48 L249.85,450.91 L251.36,450.33 L252.86,449.75 L254.37,449.16 L255.87,448.57 L257.38,447.97 L258.89,447.36 L260.39,446.74 L261.90,446.12 L263.40,445.48 L264.91,444.84 L266.42,444.18 L267.92,443.51 L269.43,442.83 L270.93,442.13 L272.44,441.41 L273.95,440.69 L275.45,439.94 L276.96,439.18 L278.46,438.40 L279.97,437.60 L281.48,436.79 L282.98,435.97 L284.49,435.13 L285.99,434.27 L287.50,433.40 L289.01,432.51 L290.51,431.61 L292.02,430.69 L293.53,429.76 L295.03,428.81 L296.54,427.85 L298.04,426.88 L299.55,425.89 L301.06,424.89 L302.56,423.88 L304.07,422.86 L305.57,421.82 L307.08,420.77 L308.59,419.71 L310.09,418.64 L311.60,417.57 L313.10,416.48 L314.61,415.38 L316.12,414.27 L317.62,413.16 L319.13,412.04 L320.63,410.91 L322.14,409.78 L323.65,408.64 L325.15,407.50 L326.66,406.35 L328.16,405.20 L329.67,404.05 L331.18,402.90 L332.68,401.75 L334.19,400.61 L335.70,399.46 L337.20,398.32 L338.71,397.19 L340.21,396.06 L341.72,394.93 L343.23,393.82 L344.73,392.72 L346.24,391.63 L347.74,390.55 L349.25,389.48 L350.76,388.43 L352.26,387.39 L353.77,386.36 L355.27,385.36 L356.78,384.37 L358.29,383.40 L359.79,382.45 L361.30,381.53 L362.80,380.62 L364.31,379.73 L365.82,378.87 L367.32,378.03 L368.83,377.22 L370.34,376.43 L371.84,375.66 L373.35,374.93 L374.85,374.21 L376.36,373.52 L377.87,372.86 L379.37,372.22 L380.88,371.61 L382.38,371.02 L383.89,370.46 L385.40,369.92 L386.90,369.41 L388.41,368.92 L389.91,368.45 L391.42,368.00 L392.93,367.58 L394.43,367.18 L395.94,366.80 L397.44,366.44 L398.95,366.09 L400.46,365.77 L401.96,365.46 L403.47,365.17 L404.97,364.90 L406.48,364.64 L407.99,364.39 L409.49,364.16 L411.00,363.94 L412.51,363.74 L414.01,363.54 L415.52,363.36 L417.02,363.18 L418.53,363.02 L420.04,362.86 L421.54,362.71 L423.05,362.57 L424.55,362.44 L426.06,362.31 L427.57,362.19 L429.07,362.07 L430.58,361.95 L432.08,361.84 L433.59,361.74 L435.10,361.64 L436.60,361.54 L438.11,361.45 L439.61,361.36 L441.12,361.27 L442.63,361.19 L444.13,361.11 L445.64,361.03 L447.14,360.96 L448.65,360.89 L450.16,360.82 L451.66,360.75 L453.17,360.69 L454.68,360.63 L456.18,360.58 L457.69,360.53 L459.19,360.48 L460.70,360.43 L462.21,360.38 L463.71,360.34 L465.22,360.31 L466.72,360.27 L468.23,360.24 L469.74,360.21 L471.24,360.19 L472.75,360.17 L474.25,360.15 L475.76,360.14 L477.27,360.13 L478.77,360.12 L480.28,360.12 L481.78,360.12 L483.29,360.13 L484.80,360.14 L486.30,360.16 L487.81,360.18 L489.31,360.20 L490.82,360.23 L492.33,360.27 L493.83,360.31 L495.34,360.35 L496.85,360.40 L498.35,360.46 L499.86,360.52 L501.36,360.59 L502.87,360.67 L504.38,360.75 L505.88,360.83 L507.39,360.93 L508.89,361.03 L510.40,361.14" fill="none" stroke="#08705a" stroke-width="2.9" stroke-linecap="butt" stroke-linejoin="round"/>
<path d="M298.60,434.43 L300.10,434.04 L301.61,433.66 L303.11,433.28 L304.62,432.91 L306.12,432.55 L307.63,432.20 L309.13,431.85 L310.63,431.51 L312.14,431.17 L313.64,430.84 L315.15,430.52 L316.65,430.20 L318.15,429.88 L319.66,429.57 L321.16,429.26 L322.67,428.95 L324.17,428.65 L325.68,428.34 L327.18,428.04 L328.68,427.74 L330.19,427.44 L331.69,427.14 L333.20,426.84 L334.70,426.54 L336.21,426.24 L337.71,425.94 L339.21,425.63 L340.72,425.32 L342.22,425.01 L343.73,424.69 L345.23,424.37 L346.73,424.05 L348.24,423.71 L349.74,423.37 L351.25,423.02 L352.75,422.67 L354.26,422.30 L355.76,421.93 L357.26,421.54 L358.77,421.15 L360.27,420.74 L361.78,420.32 L363.28,419.89 L364.79,419.44 L366.29,418.98 L367.79,418.50 L369.30,418.00 L370.80,417.48 L372.31,416.95 L373.81,416.40 L375.31,415.82 L376.82,415.23 L378.32,414.61 L379.83,413.97 L381.33,413.30 L382.84,412.61 L384.34,411.89 L385.84,411.15 L387.35,410.37 L388.85,409.57 L390.36,408.73 L391.86,407.87 L393.37,406.96 L394.87,406.02 L396.37,405.05 L397.88,404.04 L399.38,402.99 L400.89,401.90 L402.39,400.77 L403.89,399.59 L405.40,398.38 L406.90,397.13 L408.41,395.84 L409.91,394.51 L411.42,393.15 L412.92,391.75 L414.42,390.32 L415.93,388.86 L417.43,387.37 L418.94,385.85 L420.44,384.32 L421.95,382.76 L423.45,381.19 L424.95,379.61 L426.46,378.02 L427.96,376.42 L429.47,374.83 L430.97,373.24 L432.47,371.65 L433.98,370.08 L435.48,368.52 L436.99,366.99 L438.49,365.48 L440.00,364.00 L441.50,362.54 L443.00,361.12 L444.51,359.74 L446.01,358.39 L447.52,357.07 L449.02,355.80 L450.53,354.57 L452.03,353.39 L453.53,352.24 L455.04,351.14 L456.54,350.08 L458.05,349.07 L459.55,348.10 L461.05,347.18 L462.56,346.29 L464.06,345.45 L465.57,344.65 L467.07,343.89 L468.58,343.16 L470.08,342.47 L471.58,341.81 L473.09,341.19 L474.59,340.60 L476.10,340.03 L477.60,339.49 L479.11,338.98 L480.61,338.49 L482.11,338.02 L483.62,337.57 L485.12,337.14 L486.63,336.72 L488.13,336.32 L489.63,335.93 L491.14,335.55 L492.64,335.18 L494.15,334.82 L495.65,334.47 L497.16,334.14 L498.66,333.80 L500.16,333.48 L501.67,333.17 L503.17,332.86 L504.68,332.56 L506.18,332.27 L507.69,331.98 L509.19,331.70 L510.69,331.42 L512.20,331.15 L513.70,330.88 L515.21,330.62 L516.71,330.37 L518.21,330.12 L519.72,329.87 L521.22,329.63 L522.73,329.40 L524.23,329.17 L525.74,328.94 L527.24,328.72 L528.74,328.51 L530.25,328.30 L531.75,328.10 L533.26,327.91 L534.76,327.72 L536.27,327.54 L537.77,327.36 L539.27,327.19 L540.78,327.03 L542.28,326.88 L543.79,326.73 L545.29,326.60 L546.79,326.47 L548.30,326.35 L549.80,326.23 L551.31,326.13 L552.81,326.04 L554.32,325.95 L555.82,325.88 L557.32,325.82 L558.83,325.76 L560.33,325.72 L561.84,325.69 L563.34,325.67 L564.85,325.67 L566.35,325.67 L567.85,325.69 L569.36,325.72 L570.86,325.77 L572.37,325.83 L573.87,325.90 L575.37,325.98 L576.88,326.09 L578.38,326.20 L579.89,326.34 L581.39,326.48 L582.90,326.65 L584.40,326.83" fill="none" stroke="#3ac4a8" stroke-width="2.9" stroke-linecap="butt" stroke-linejoin="round"/>
<path d="M478.50,335.79 L480.00,335.41 L481.50,335.03 L483.00,334.65 L484.50,334.28 L486.01,333.91 L487.51,333.55 L489.01,333.19 L490.51,332.84 L492.01,332.49 L493.51,332.14 L495.01,331.79 L496.51,331.45 L498.01,331.11 L499.51,330.78 L501.02,330.44 L502.52,330.10 L504.02,329.77 L505.52,329.44 L507.02,329.11 L508.52,328.77 L510.02,328.44 L511.52,328.11 L513.02,327.77 L514.53,327.43 L516.03,327.10 L517.53,326.76 L519.03,326.41 L520.53,326.06 L522.03,325.71 L523.53,325.36 L525.03,325.00 L526.53,324.63 L528.03,324.26 L529.54,323.88 L531.04,323.50 L532.54,323.11 L534.04,322.71 L535.54,322.30 L537.04,321.88 L538.54,321.45 L540.04,321.01 L541.54,320.56 L543.05,320.09 L544.55,319.61 L546.05,319.12 L547.55,318.62 L549.05,318.10 L550.55,317.56 L552.05,317.01 L553.55,316.44 L555.05,315.85 L556.55,315.24 L558.06,314.62 L559.56,313.97 L561.06,313.30 L562.56,312.61 L564.06,311.89 L565.56,311.16 L567.06,310.39 L568.56,309.61 L570.06,308.79 L571.57,307.95 L573.07,307.09 L574.57,306.19 L576.07,305.26 L577.57,304.30 L579.07,303.30 L580.57,302.26 L582.07,301.18 L583.57,300.06 L585.07,298.89 L586.58,297.68 L588.08,296.42 L589.58,295.11 L591.08,293.75 L592.58,292.34 L594.08,290.88 L595.58,289.37 L597.08,287.81 L598.58,286.19 L600.09,284.52 L601.59,282.80 L603.09,281.04 L604.59,279.25 L606.09,277.48 L607.59,275.74 L609.09,274.05 L610.59,272.42 L612.09,270.84 L613.59,269.31 L615.10,267.84 L616.60,266.42 L618.10,265.06 L619.60,263.74 L621.10,262.48 L622.60,261.26 L624.10,260.10 L625.60,258.98 L627.10,257.90 L628.61,256.87 L630.11,255.87 L631.61,254.92 L633.11,254.00 L634.61,253.11 L636.11,252.25 L637.61,251.42 L639.11,250.61 L640.61,249.82 L642.11,249.06 L643.62,248.31 L645.12,247.59 L646.62,246.89 L648.12,246.21 L649.62,245.55 L651.12,244.91 L652.62,244.28 L654.12,243.68 L655.62,243.08 L657.13,242.51 L658.63,241.95 L660.13,241.40 L661.63,240.86 L663.13,240.34 L664.63,239.83 L666.13,239.34 L667.63,238.86 L669.13,238.38 L670.63,237.92 L672.14,237.47 L673.64,237.03 L675.14,236.61 L676.64,236.19 L678.14,235.78 L679.64,235.39 L681.14,235.00 L682.64,234.62 L684.14,234.26 L685.65,233.90 L687.15,233.55 L688.65,233.22 L690.15,232.89 L691.65,232.57 L693.15,232.26 L694.65,231.95 L696.15,231.66 L697.65,231.37 L699.15,231.10 L700.66,230.83 L702.16,230.57 L703.66,230.32 L705.16,230.07 L706.66,229.84 L708.16,229.61 L709.66,229.39 L711.16,229.18 L712.66,228.98 L714.17,228.79 L715.67,228.61 L717.17,228.44 L718.67,228.27 L720.17,228.12 L721.67,227.97 L723.17,227.84 L724.67,227.71 L726.17,227.60 L727.67,227.50 L729.18,227.40 L730.68,227.32 L732.18,227.25 L733.68,227.19 L735.18,227.14 L736.68,227.11 L738.18,227.08 L739.68,227.06 L741.18,227.05 L742.69,227.05 L744.19,227.06 L745.69,227.07 L747.19,227.09 L748.69,227.12 L750.19,227.15 L751.69,227.19 L753.19,227.23 L754.69,227.27 L756.19,227.32 L757.70,227.37 L759.20,227.43 L760.70,227.48 L762.20,227.54 L763.70,227.60" fill="none" stroke="#4a2db2" stroke-width="2.9" stroke-linecap="butt" stroke-linejoin="round"/>
<path d="M402.90,375.60 L404.41,375.32 L405.92,375.04 L407.42,374.77 L408.93,374.51 L410.44,374.25 L411.95,373.99 L413.45,373.74 L414.96,373.50 L416.47,373.26 L417.98,373.02 L419.48,372.79 L420.99,372.55 L422.50,372.33 L424.01,372.10 L425.51,371.88 L427.02,371.65 L428.53,371.43 L430.04,371.21 L431.54,370.99 L433.05,370.77 L434.56,370.55 L436.07,370.33 L437.57,370.11 L439.08,369.88 L440.59,369.65 L442.10,369.42 L443.61,369.19 L445.11,368.95 L446.62,368.71 L448.13,368.46 L449.64,368.21 L451.14,367.94 L452.65,367.68 L454.16,367.40 L455.67,367.11 L457.17,366.82 L458.68,366.52 L460.19,366.20 L461.70,365.87 L463.20,365.53 L464.71,365.18 L466.22,364.81 L467.73,364.43 L469.23,364.03 L470.74,363.61 L472.25,363.17 L473.76,362.72 L475.27,362.24 L476.77,361.74 L478.28,361.22 L479.79,360.67 L481.30,360.10 L482.80,359.50 L484.31,358.88 L485.82,358.22 L487.33,357.53 L488.83,356.81 L490.34,356.06 L491.85,355.28 L493.36,354.46 L494.86,353.60 L496.37,352.70 L497.88,351.77 L499.39,350.80 L500.89,349.79 L502.40,348.74 L503.91,347.65 L505.42,346.51 L506.92,345.34 L508.43,344.12 L509.94,342.86 L511.45,341.56 L512.96,340.22 L514.46,338.84 L515.97,337.43 L517.48,335.97 L518.99,334.49 L520.49,332.97 L522.00,331.42 L523.51,329.85 L525.02,328.25 L526.52,326.64 L528.03,325.01 L529.54,323.37 L531.05,321.73 L532.55,320.08 L534.06,318.44 L535.57,316.81 L537.08,315.20 L538.58,313.60 L540.09,312.03 L541.60,310.48 L543.11,308.97 L544.62,307.49 L546.12,306.05 L547.63,304.66 L549.14,303.31 L550.65,302.01 L552.15,300.75 L553.66,299.55 L555.17,298.40 L556.68,297.29 L558.18,296.24 L559.69,295.24 L561.20,294.30 L562.71,293.40 L564.21,292.54 L565.72,291.74 L567.23,290.98 L568.74,290.26 L570.24,289.58 L571.75,288.94 L573.26,288.34 L574.77,287.78 L576.27,287.24 L577.78,286.74 L579.29,286.27 L580.80,285.82 L582.31,285.40 L583.81,285.00 L585.32,284.62 L586.83,284.26 L588.34,283.92 L589.84,283.59 L591.35,283.28 L592.86,282.98 L594.37,282.70 L595.87,282.43 L597.38,282.16 L598.89,281.91 L600.40,281.67 L601.90,281.44 L603.41,281.21 L604.92,281.00 L606.43,280.79 L607.93,280.58 L609.44,280.39 L610.95,280.20 L612.46,280.01 L613.97,279.83 L615.47,279.65 L616.98,279.48 L618.49,279.32 L620.00,279.16 L621.50,279.00 L623.01,278.84 L624.52,278.70 L626.03,278.55 L627.53,278.41 L629.04,278.27 L630.55,278.14 L632.06,278.01 L633.56,277.89 L635.07,277.77 L636.58,277.65 L638.09,277.54 L639.59,277.43 L641.10,277.33 L642.61,277.23 L644.12,277.13 L645.62,277.04 L647.13,276.95 L648.64,276.87 L650.15,276.80 L651.66,276.73 L653.16,276.66 L654.67,276.60 L656.18,276.54 L657.69,276.49 L659.19,276.45 L660.70,276.41 L662.21,276.38 L663.72,276.35 L665.22,276.33 L666.73,276.32 L668.24,276.31 L669.75,276.31 L671.25,276.32 L672.76,276.33 L674.27,276.35 L675.78,276.38 L677.28,276.41 L678.79,276.45 L680.30,276.50" fill="none" stroke="#e16c0c" stroke-width="2.9" stroke-linecap="butt" stroke-linejoin="round"/>
<path d="M538.20,289.01 L539.71,288.60 L541.21,288.21 L542.72,287.83 L544.22,287.46 L545.73,287.10 L547.23,286.75 L548.74,286.40 L550.24,286.07 L551.75,285.75 L553.26,285.43 L554.76,285.12 L556.27,284.82 L557.77,284.53 L559.28,284.24 L560.78,283.96 L562.29,283.69 L563.79,283.42 L565.30,283.15 L566.81,282.89 L568.31,282.63 L569.82,282.38 L571.32,282.13 L572.83,281.88 L574.33,281.64 L575.84,281.39 L577.35,281.15 L578.85,280.90 L580.36,280.66 L581.86,280.41 L583.37,280.16 L584.87,279.91 L586.38,279.66 L587.88,279.40 L589.39,279.14 L590.90,278.88 L592.40,278.60 L593.91,278.32 L595.41,278.04 L596.92,277.74 L598.42,277.44 L599.93,277.12 L601.43,276.80 L602.94,276.46 L604.45,276.11 L605.95,275.74 L607.46,275.36 L608.96,274.97 L610.47,274.55 L611.97,274.12 L613.48,273.67 L614.98,273.19 L616.49,272.70 L618.00,272.18 L619.50,271.63 L621.01,271.06 L622.51,270.47 L624.02,269.84 L625.52,269.18 L627.03,268.49 L628.54,267.76 L630.04,267.00 L631.55,266.21 L633.05,265.37 L634.56,264.50 L636.06,263.58 L637.57,262.62 L639.07,261.62 L640.58,260.57 L642.09,259.47 L643.59,258.33 L645.10,257.14 L646.60,255.91 L648.11,254.63 L649.61,253.29 L651.12,251.92 L652.62,250.49 L654.13,249.03 L655.64,247.51 L657.14,245.95 L658.65,244.33 L660.15,242.68 L661.66,240.97 L663.16,239.23 L664.67,237.45 L666.17,235.65 L667.68,233.82 L669.19,231.98 L670.69,230.13 L672.20,228.28 L673.70,226.44 L675.21,224.62 L676.71,222.82 L678.22,221.05 L679.73,219.32 L681.23,217.64 L682.74,216.01 L684.24,214.44 L685.75,212.93 L687.25,211.49 L688.76,210.10 L690.26,208.78 L691.77,207.52 L693.28,206.32 L694.78,205.17 L696.29,204.09 L697.79,203.06 L699.30,202.08 L700.80,201.15 L702.31,200.26 L703.81,199.41 L705.32,198.60 L706.83,197.82 L708.33,197.07 L709.84,196.35 L711.34,195.64 L712.85,194.97 L714.35,194.31 L715.86,193.68 L717.36,193.07 L718.87,192.49 L720.38,191.92 L721.88,191.38 L723.39,190.85 L724.89,190.35 L726.40,189.87 L727.90,189.41 L729.41,188.96 L730.92,188.54 L732.42,188.14 L733.93,187.76 L735.43,187.41 L736.94,187.07 L738.44,186.75 L739.95,186.45 L741.45,186.17 L742.96,185.90 L744.47,185.64 L745.97,185.41 L747.48,185.18 L748.98,184.97 L750.49,184.77 L751.99,184.58 L753.50,184.40 L755.00,184.23 L756.51,184.07 L758.02,183.92 L759.52,183.77 L761.03,183.64 L762.53,183.51 L764.04,183.40 L765.54,183.28 L767.05,183.18 L768.55,183.08 L770.06,182.99 L771.57,182.90 L773.07,182.82 L774.58,182.75 L776.08,182.68 L777.59,182.61 L779.09,182.55 L780.60,182.49 L782.11,182.44 L783.61,182.39 L785.12,182.35 L786.62,182.30 L788.13,182.27 L789.63,182.23 L791.14,182.20 L792.64,182.17 L794.15,182.14 L795.66,182.12 L797.16,182.10 L798.67,182.08 L800.17,182.06 L801.68,182.05 L803.18,182.03 L804.69,182.02 L806.19,182.01 L807.70,182.00" fill="none" stroke="#16a23c" stroke-width="2.9" stroke-linecap="butt" stroke-linejoin="round"/>
<path d="M574.70,248.29 L576.21,247.91 L577.71,247.53 L579.22,247.17 L580.72,246.82 L582.23,246.47 L583.74,246.14 L585.24,245.81 L586.75,245.49 L588.26,245.19 L589.76,244.88 L591.27,244.59 L592.77,244.30 L594.28,244.02 L595.79,243.75 L597.29,243.48 L598.80,243.21 L600.30,242.95 L601.81,242.69 L603.32,242.44 L604.82,242.19 L606.33,241.94 L607.84,241.69 L609.34,241.44 L610.85,241.19 L612.35,240.95 L613.86,240.70 L615.37,240.45 L616.87,240.20 L618.38,239.95 L619.88,239.69 L621.39,239.43 L622.90,239.16 L624.40,238.89 L625.91,238.61 L627.42,238.32 L628.92,238.03 L630.43,237.73 L631.93,237.42 L633.44,237.10 L634.95,236.76 L636.45,236.42 L637.96,236.06 L639.46,235.69 L640.97,235.30 L642.48,234.90 L643.98,234.48 L645.49,234.04 L646.99,233.58 L648.50,233.10 L650.01,232.60 L651.51,232.08 L653.02,231.54 L654.53,230.96 L656.03,230.37 L657.54,229.75 L659.04,229.09 L660.55,228.41 L662.06,227.70 L663.56,226.95 L665.07,226.18 L666.57,225.36 L668.08,224.51 L669.59,223.63 L671.09,222.70 L672.60,221.74 L674.11,220.74 L675.61,219.69 L677.12,218.60 L678.62,217.47 L680.13,216.30 L681.64,215.09 L683.14,213.84 L684.65,212.54 L686.15,211.20 L687.66,209.83 L689.17,208.41 L690.67,206.96 L692.18,205.47 L693.69,203.95 L695.19,202.40 L696.70,200.81 L698.20,199.20 L699.71,197.56 L701.22,195.90 L702.72,194.22 L704.23,192.53 L705.73,190.83 L707.24,189.12 L708.75,187.41 L710.25,185.70 L711.76,184.01 L713.27,182.32 L714.77,180.66 L716.28,179.02 L717.78,177.41 L719.29,175.84 L720.80,174.31 L722.30,172.82 L723.81,171.37 L725.31,169.97 L726.82,168.62 L728.33,167.33 L729.83,166.09 L731.34,164.90 L732.85,163.76 L734.35,162.67 L735.86,161.63 L737.36,160.65 L738.87,159.70 L740.38,158.81 L741.88,157.96 L743.39,157.14 L744.89,156.37 L746.40,155.63 L747.91,154.92 L749.41,154.25 L750.92,153.59 L752.43,152.96 L753.93,152.36 L755.44,151.78 L756.94,151.22 L758.45,150.68 L759.96,150.16 L761.46,149.67 L762.97,149.20 L764.47,148.74 L765.98,148.31 L767.49,147.91 L768.99,147.52 L770.50,147.15 L772.01,146.80 L773.51,146.47 L775.02,146.16 L776.52,145.86 L778.03,145.58 L779.54,145.31 L781.04,145.06 L782.55,144.81 L784.05,144.58 L785.56,144.36 L787.07,144.15 L788.57,143.95 L790.08,143.77 L791.58,143.58 L793.09,143.41 L794.60,143.25 L796.10,143.10 L797.61,142.95 L799.12,142.81 L800.62,142.68 L802.13,142.55 L803.63,142.43 L805.14,142.32 L806.65,142.21 L808.15,142.11 L809.66,142.02 L811.16,141.93 L812.67,141.85 L814.18,141.77 L815.68,141.70 L817.19,141.64 L818.70,141.58 L820.20,141.53 L821.71,141.48 L823.21,141.44 L824.72,141.40 L826.23,141.37 L827.73,141.34 L829.24,141.32 L830.74,141.30 L832.25,141.29 L833.76,141.29 L835.26,141.29 L836.77,141.29 L838.28,141.30 L839.78,141.32 L841.29,141.34 L842.79,141.37 L844.30,141.40" fill="none" stroke="#740994" stroke-width="2.9" stroke-linecap="butt" stroke-linejoin="round"/>
<path d="M611.20,207.80 L612.71,207.46 L614.22,207.12 L615.72,206.79 L617.23,206.46 L618.74,206.14 L620.25,205.83 L621.76,205.53 L623.27,205.23 L624.77,204.93 L626.28,204.64 L627.79,204.36 L629.30,204.08 L630.81,203.80 L632.31,203.53 L633.82,203.26 L635.33,203.00 L636.84,202.74 L638.35,202.48 L639.85,202.23 L641.36,201.98 L642.87,201.73 L644.38,201.48 L645.89,201.23 L647.40,200.99 L648.90,200.74 L650.41,200.50 L651.92,200.25 L653.43,200.00 L654.94,199.76 L656.44,199.51 L657.95,199.26 L659.46,199.00 L660.97,198.75 L662.48,198.48 L663.98,198.22 L665.49,197.95 L667.00,197.67 L668.51,197.39 L670.02,197.09 L671.53,196.79 L673.03,196.48 L674.54,196.16 L676.05,195.83 L677.56,195.49 L679.07,195.13 L680.57,194.76 L682.08,194.37 L683.59,193.96 L685.10,193.54 L686.61,193.09 L688.12,192.63 L689.62,192.14 L691.13,191.62 L692.64,191.08 L694.15,190.51 L695.66,189.91 L697.16,189.27 L698.67,188.60 L700.18,187.90 L701.69,187.15 L703.20,186.37 L704.70,185.54 L706.21,184.66 L707.72,183.74 L709.23,182.77 L710.74,181.75 L712.25,180.68 L713.75,179.55 L715.26,178.36 L716.77,177.12 L718.28,175.82 L719.79,174.46 L721.29,173.04 L722.80,171.57 L724.31,170.03 L725.82,168.44 L727.33,166.80 L728.83,165.11 L730.34,163.36 L731.85,161.58 L733.36,159.75 L734.87,157.89 L736.38,156.00 L737.88,154.09 L739.39,152.16 L740.90,150.23 L742.41,148.29 L743.92,146.36 L745.42,144.45 L746.93,142.56 L748.44,140.70 L749.95,138.88 L751.46,137.11 L752.97,135.39 L754.47,133.73 L755.98,132.14 L757.49,130.61 L759.00,129.16 L760.51,127.78 L762.01,126.48 L763.52,125.26 L765.03,124.13 L766.54,123.07 L768.05,122.09 L769.55,121.19 L771.06,120.35 L772.57,119.57 L774.08,118.83 L775.59,118.13 L777.10,117.45 L778.60,116.78 L780.11,116.14 L781.62,115.52 L783.13,114.91 L784.64,114.33 L786.14,113.76 L787.65,113.22 L789.16,112.68 L790.67,112.17 L792.18,111.67 L793.68,111.18 L795.19,110.70 L796.70,110.24 L798.21,109.79 L799.72,109.34 L801.23,108.91 L802.73,108.49 L804.24,108.08 L805.75,107.68 L807.26,107.30 L808.77,106.92 L810.27,106.55 L811.78,106.19 L813.29,105.85 L814.80,105.52 L816.31,105.20 L817.82,104.89 L819.32,104.60 L820.83,104.32 L822.34,104.05 L823.85,103.80 L825.36,103.57 L826.86,103.35 L828.37,103.15 L829.88,102.97 L831.39,102.80 L832.90,102.65 L834.40,102.51 L835.91,102.39 L837.42,102.28 L838.93,102.19 L840.44,102.10 L841.95,102.02 L843.45,101.95 L844.96,101.89 L846.47,101.84 L847.98,101.80 L849.49,101.75 L850.99,101.72 L852.50,101.69 L854.01,101.66 L855.52,101.63 L857.03,101.61 L858.53,101.58 L860.04,101.56 L861.55,101.53 L863.06,101.50 L864.57,101.47 L866.08,101.43 L867.58,101.39 L869.09,101.35 L870.60,101.30" fill="none" stroke="#5b62c2" stroke-width="3.2" stroke-linecap="butt" stroke-linejoin="round"/>
<polygon points="2.0,6.9 6.2,6.9 5.8,493 1.8,493" fill="#000"/>
<polygon points="1.8,491.5 200,491.8 350,492.3 500,492.6 690,493.3 850,494.3 921.7,494.5 921.7,498.3 850,498.3 690,497.9 500,497.3 350,497.1 200,496.8 1.8,496.5" fill="#000"/>
</g>
<g style="filter:blur(0.35px)">
<text x="16.40" y="57.9" font-size="22.3" textLength="194.75" lengthAdjust="spacingAndGlyphs">Electromechanical</text>
<text x="263.60" y="58.0" font-size="22.3" textLength="55.22" lengthAdjust="spacingAndGlyphs">Relay</text>
<text x="348.60" y="58.7" font-size="22.3" textLength="84.54" lengthAdjust="spacingAndGlyphs">Vacuum</text>
<text x="440.60" y="58.8" font-size="22.3" textLength="49.14" lengthAdjust="spacingAndGlyphs">Tube</text>
<text x="502.10" y="59.7" font-size="22.3" textLength="103.00" lengthAdjust="spacingAndGlyphs">Transistor</text>
<text x="642.00" y="59.5" font-size="22.3" textLength="107.92" lengthAdjust="spacingAndGlyphs">Integrated</text>
<text x="756.60" y="60.1" font-size="22.3" textLength="79.72" lengthAdjust="spacingAndGlyphs">Circuits</text>
<text x="1.40" y="530.9" font-size="36.8" textLength="86.22" lengthAdjust="spacingAndGlyphs" style="stroke-width:0.2px">1900</text>
<text x="163.30" y="530.9" font-size="36.8" textLength="87.05" lengthAdjust="spacingAndGlyphs" style="stroke-width:0.2px">1920</text>
<text x="291.10" y="530.6" font-size="36.8" textLength="85.95" lengthAdjust="spacingAndGlyphs" style="stroke-width:0.2px">1940</text>
<text x="449.80" y="530.2" font-size="36.8" textLength="87.58" lengthAdjust="spacingAndGlyphs" style="stroke-width:0.2px">1960</text>
<text x="636.80" y="529.8" font-size="36.8" textLength="86.59" lengthAdjust="spacingAndGlyphs" style="stroke-width:0.2px">1980</text>
<text x="797.80" y="529.7" font-size="36.8" textLength="88.01" lengthAdjust="spacingAndGlyphs" style="stroke-width:0.2px">2020</text>
</g>
</svg></body></html>
